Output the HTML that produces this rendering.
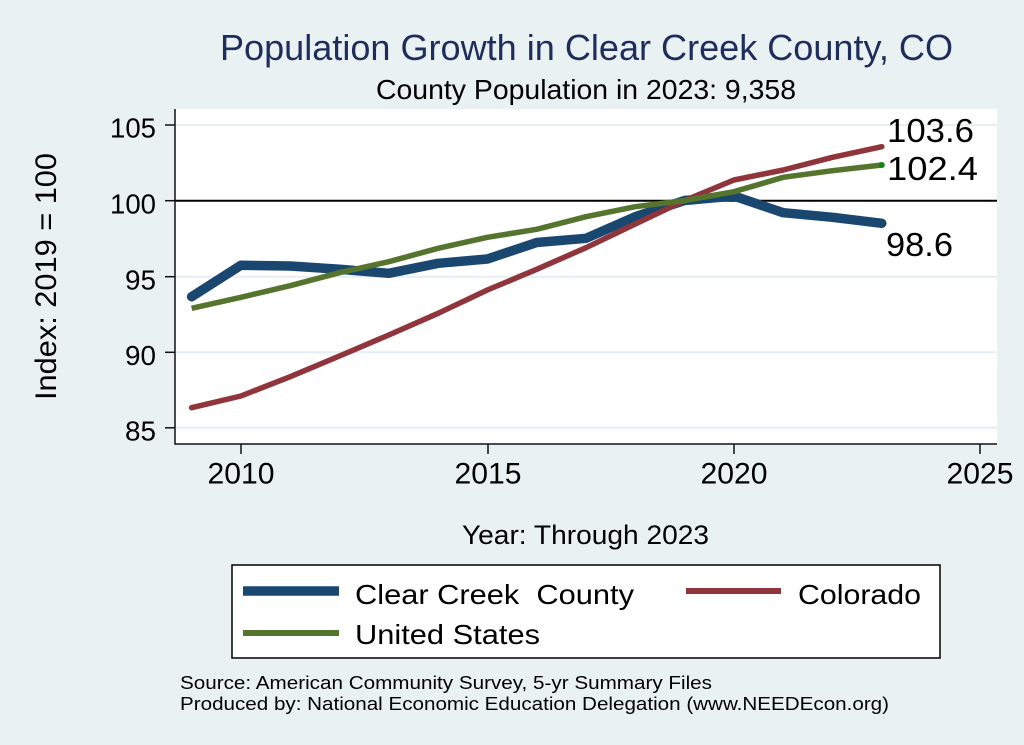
<!DOCTYPE html>
<html>
<head>
<meta charset="utf-8">
<style>
html,body{margin:0;padding:0;background:#eaf1f3;}
svg{display:block;}
text{font-family:"Liberation Sans",Arial,sans-serif;white-space:pre;}
</style>
</head>
<body>
<svg width="1024" height="745" viewBox="0 0 1024 745" xmlns="http://www.w3.org/2000/svg">
<rect x="0" y="0" width="1024" height="745" fill="#eaf1f3"/>
<!-- plot region -->
<rect x="175" y="109" width="822" height="335" fill="#ffffff"/>
<!-- grid -->
<g stroke="#e6eef1" stroke-width="2">
<line x1="176" y1="125" x2="997" y2="125"/>
<line x1="176" y1="276.7" x2="997" y2="276.7"/>
<line x1="176" y1="352.3" x2="997" y2="352.3"/>
<line x1="176" y1="427.8" x2="997" y2="427.8"/>
</g>
<!-- y=100 line -->
<line x1="175" y1="200.7" x2="997" y2="200.7" stroke="#000" stroke-width="2"/>
<!-- axes -->
<line x1="175" y1="109" x2="175" y2="444.5" stroke="#111" stroke-width="1.5"/>
<line x1="174.3" y1="444" x2="997" y2="444" stroke="#111" stroke-width="1.5"/>
<!-- ticks -->
<g stroke="#111" stroke-width="1.5">
<line x1="165" y1="125" x2="175" y2="125"/>
<line x1="165" y1="200.7" x2="175" y2="200.7"/>
<line x1="165" y1="276.7" x2="175" y2="276.7"/>
<line x1="165" y1="352.3" x2="175" y2="352.3"/>
<line x1="165" y1="427.8" x2="175" y2="427.8"/>
<line x1="241" y1="444" x2="241" y2="454"/>
<line x1="488" y1="444" x2="488" y2="454"/>
<line x1="734" y1="444" x2="734" y2="454"/>
<line x1="980" y1="444" x2="980" y2="454"/>
</g>
<!-- y tick labels -->
<g font-size="28" fill="#000" text-anchor="end">
<text x="156" y="137.5" textLength="46" lengthAdjust="spacingAndGlyphs">105</text>
<text x="156" y="213.3" textLength="46" lengthAdjust="spacingAndGlyphs">100</text>
<text x="156" y="289.3" textLength="31" lengthAdjust="spacingAndGlyphs">95</text>
<text x="156" y="364.8" textLength="31" lengthAdjust="spacingAndGlyphs">90</text>
<text x="156" y="440.3" textLength="31" lengthAdjust="spacingAndGlyphs">85</text>
</g>
<!-- x tick labels -->
<g font-size="30" fill="#000">
<text x="207.5" y="483.5" textLength="67" lengthAdjust="spacingAndGlyphs">2010</text>
<text x="454.5" y="483.5" textLength="67" lengthAdjust="spacingAndGlyphs">2015</text>
<text x="700.5" y="483.5" textLength="67" lengthAdjust="spacingAndGlyphs">2020</text>
<text x="946.5" y="483.5" textLength="67" lengthAdjust="spacingAndGlyphs">2025</text>
</g>
<!-- series -->
<polyline fill="none" stroke="#1a476f" stroke-width="9.5" stroke-linecap="round" stroke-linejoin="round"
 points="191.6,296.7 240.9,265.3 290.2,266 339.5,269.3 388.8,273.3 438.1,263.3 487.4,259 536.7,242.5 586,238.3 635.3,216.7 684.6,200.5 733.9,196 783.2,212.7 832.5,217.3 881.8,223.3"/>
<polyline fill="none" stroke="#90353b" stroke-width="5.5" stroke-linecap="round" stroke-linejoin="round"
 points="191.6,407.7 240.9,396 290.2,376.7 339.5,356 388.8,335 438.1,313.3 487.4,290 536.7,269.3 586,247.7 635.3,224 684.6,200.5 733.9,180 783.2,170 832.5,157.3 881.8,146.7"/>
<polyline fill="none" stroke="#55752f" stroke-width="5.5" stroke-linecap="butt" stroke-linejoin="round"
 points="191.6,308.3 240.9,297.3 290.2,285.7 339.5,272.7 388.8,261.7 438.1,248.3 487.4,237.3 536.7,229.3 586,216.7 635.3,206.7 684.6,200.5 733.9,191.7 783.2,177.3 832.5,170.7 881.8,165"/>
<circle cx="881.8" cy="165" r="3" fill="#0b8a0b"/>
<!-- end labels -->
<g font-size="33" fill="#000">
<text x="887" y="142" textLength="87" lengthAdjust="spacingAndGlyphs">103.6</text>
<text x="887" y="180" textLength="91" lengthAdjust="spacingAndGlyphs">102.4</text>
<text x="886" y="256" textLength="67" lengthAdjust="spacingAndGlyphs">98.6</text>
</g>
<!-- titles -->
<text x="220" y="60" font-size="36" fill="#1e2d5c" textLength="733" lengthAdjust="spacingAndGlyphs">Population Growth in Clear Creek County, CO</text>
<text x="376" y="99" font-size="28" fill="#000" textLength="420" lengthAdjust="spacingAndGlyphs">County Population in 2023: 9,358</text>
<text transform="translate(56,276.5) rotate(-90)" text-anchor="middle" font-size="30" fill="#000" textLength="247" lengthAdjust="spacingAndGlyphs">Index: 2019 = 100</text>
<text x="462" y="544" font-size="27" fill="#000" textLength="247" lengthAdjust="spacingAndGlyphs">Year: Through 2023</text>
<!-- legend -->
<rect x="232" y="565" width="708" height="93" fill="#ffffff" stroke="#000" stroke-width="1.5"/>
<line x1="243" y1="591" x2="339" y2="591" stroke="#1a476f" stroke-width="9.5"/>
<line x1="686" y1="591" x2="781" y2="591" stroke="#90353b" stroke-width="6"/>
<line x1="243" y1="633" x2="339" y2="633" stroke="#55752f" stroke-width="6"/>
<g font-size="28" fill="#000">
<text x="355" y="604" textLength="279" lengthAdjust="spacingAndGlyphs">Clear Creek  County</text>
<text x="798" y="604" textLength="123" lengthAdjust="spacingAndGlyphs">Colorado</text>
<text x="355" y="644" textLength="185" lengthAdjust="spacingAndGlyphs">United States</text>
</g>
<!-- footer -->
<g font-size="18" fill="#000">
<text x="180" y="689" textLength="532" lengthAdjust="spacingAndGlyphs">Source: American Community Survey, 5-yr Summary Files</text>
<text x="180" y="710" textLength="709" lengthAdjust="spacingAndGlyphs">Produced by: National Economic Education Delegation (www.NEEDEcon.org)</text>
</g>
</svg>
</body>
</html>
